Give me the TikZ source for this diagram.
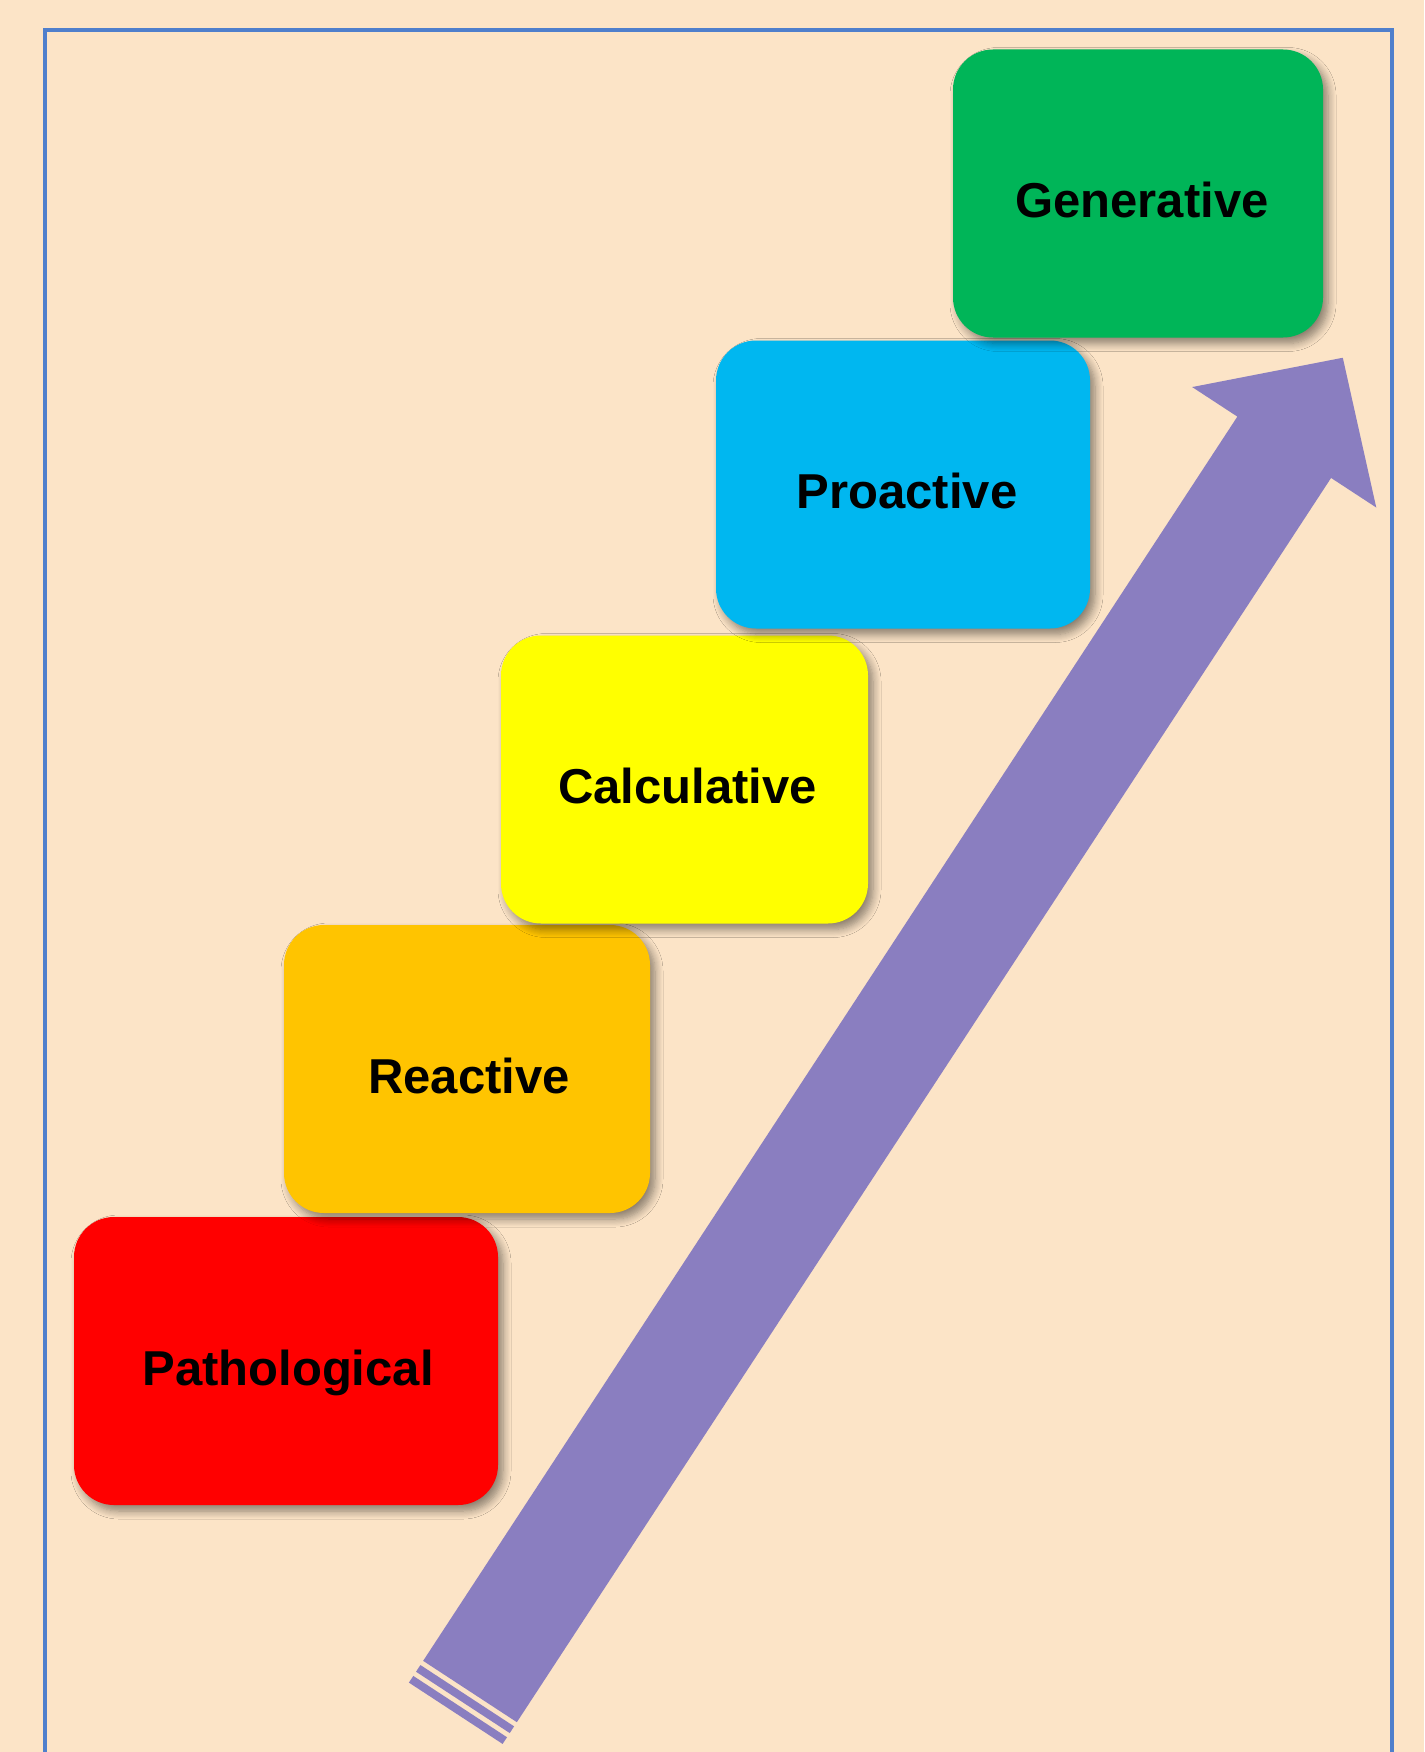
\documentclass[tikz,border=0pt]{standalone}
\usepackage{fontspec}
\newfontfamily\lblfont{Liberation Sans}
\usetikzlibrary{shadows.blur,calc}
\definecolor{bgc}{HTML}{FCE4C7}
\definecolor{framec}{HTML}{4F7FCC}
\definecolor{arrowc}{HTML}{8A7EC0}
\definecolor{cred}{HTML}{FF0000}
\definecolor{corange}{HTML}{FFC400}
\definecolor{cyellow}{HTML}{FFFF00}
\definecolor{cblue}{HTML}{00B7F0}
\definecolor{cgreen}{HTML}{00B558}
\begin{document}
\begin{tikzpicture}[x=1pt,y=-1pt,
  stage/.style={rounded corners=40pt, minimum height=288pt, inner sep=0pt,
    blur shadow={shadow xshift=5pt, shadow yshift=-6pt, shadow blur radius=8pt, shadow blur steps=8, shadow opacity=45}},
  lbl/.style={font=\lblfont\bfseries\fontsize{49}{58}\selectfont, anchor=base, inner sep=0pt, text=black}]
\useasboundingbox (0,0) rectangle (1424,1752);
\clip (0,0) rectangle (1424,1752);
\fill[bgc] (0,0) rectangle (1424,1752);
\draw[framec, line width=4pt] (45,1770) -- (45,30) -- (1392,30) -- (1392,1770);
% arrow
\begin{scope}[shift={(470,1691.5)}, rotate=56.8]
  \fill[arrowc] (0,-56) -- (1487,-56) -- (1487,-110) -- (1594,0) -- (1487,110) -- (1487,56) -- (0,56) -- cycle;
  \fill[arrowc] (-5,-56) rectangle (-13,56);
  \fill[arrowc] (-18,-56) rectangle (-26,56);
\end{scope}
% stages
\node[stage, fill=cred, minimum width=424pt] (path) at (286,1361) {};
\node[lbl] (pathT) at ($(path.center)+(2,24)$) {Pathological};
\node[stage, fill=corange, minimum width=366pt] (react) at (467,1069) {};
\node[lbl] (reactT) at ($(react.center)+(2,24)$) {Reactive};
\node[stage, fill=cyellow, minimum width=367pt] (calc) at (684.5,779.5) {};
\node[lbl] (calcT) at ($(calc.center)+(3,24)$) {Calculative};
\node[stage, fill=cblue, minimum width=374pt] (proact) at (903,484.5) {};
\node[lbl] (proactT) at ($(proact.center)+(4,24)$) {Proactive};
\node[stage, fill=cgreen, minimum width=370pt] (gen) at (1138,193.5) {};
\node[lbl] (genT) at ($(gen.center)+(4,24)$) {Generative};
\end{tikzpicture}
\end{document}
